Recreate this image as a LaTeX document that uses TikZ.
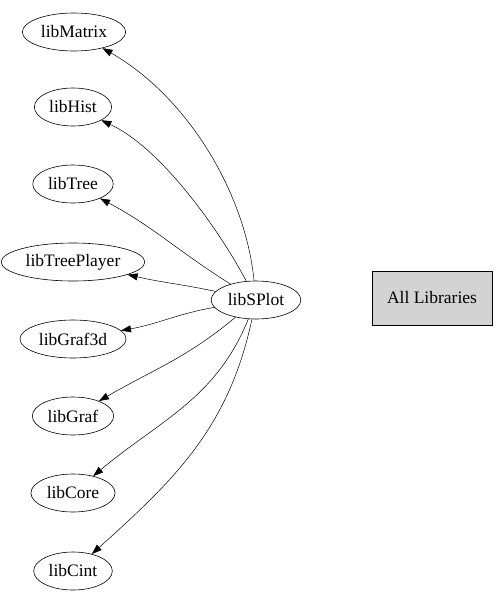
\documentclass[tikz,border=0pt]{standalone}
\usepackage{fontspec}
\setmainfont{Liberation Serif}
\usetikzlibrary{shapes.geometric, arrows.meta}

\begin{document}
\begin{tikzpicture}[x=1pt, y=1pt,
  lib/.style = {draw, ellipse, line width=0.6pt, inner xsep=3.5pt, inner ysep=0pt,
                minimum height=38pt, font=\fontsize{17.5}{19}\selectfont},
  libbox/.style = {draw, rectangle, fill={rgb,255:red,211;green,211;blue,211},
                   line width=0.6pt, minimum width=120pt, minimum height=54pt,
                   font=\fontsize{17.5}{19}\selectfont},
  dep/.style = {line width=0.5pt, -{Triangle[length=10pt, width=7pt]}}]
\useasboundingbox (0,0) rectangle (496,-600);
\path (74,-32) node[lib] (libMatrix) {libMatrix};
\path (73,-107) node[lib] (libHist) {libHist};
\path (73,-184) node[lib] (libTree) {libTree};
\path (73,-262) node[lib] (libTreePlayer) {libTreePlayer};
\path (73,-339) node[lib] (libGraf3d) {libGraf3d};
\path (73,-416) node[lib] (libGraf) {libGraf};
\path (73,-493) node[lib] (libCore) {libCore};
\path (73,-571) node[lib] (libCint) {libCint};
\path (256,-300) node[lib] (libSPlot) {libSPlot};
\path (432,-298) node[libbox] (all) {All Libraries};
\draw[dep] (libSPlot) .. controls (245,-190) and (185,-95) .. (libMatrix);
\draw[dep] (libSPlot) .. controls (225,-240) and (165,-150) .. (libHist);
\draw[dep] (libSPlot) to[out=148, in=-28] (libTree);
\draw[dep] (libSPlot) to[out=168, in=-13] (libTreePlayer);
\draw[dep] (libSPlot) to[out=-170, in=10] (libGraf3d);
\draw[dep] (libSPlot) to[out=-140, in=30] (libGraf);
\draw[dep] (libSPlot) to[out=-112, in=40] (libCore);
\draw[dep] (libSPlot) to[out=-102, in=42] (libCint);
\end{tikzpicture}
\end{document}
